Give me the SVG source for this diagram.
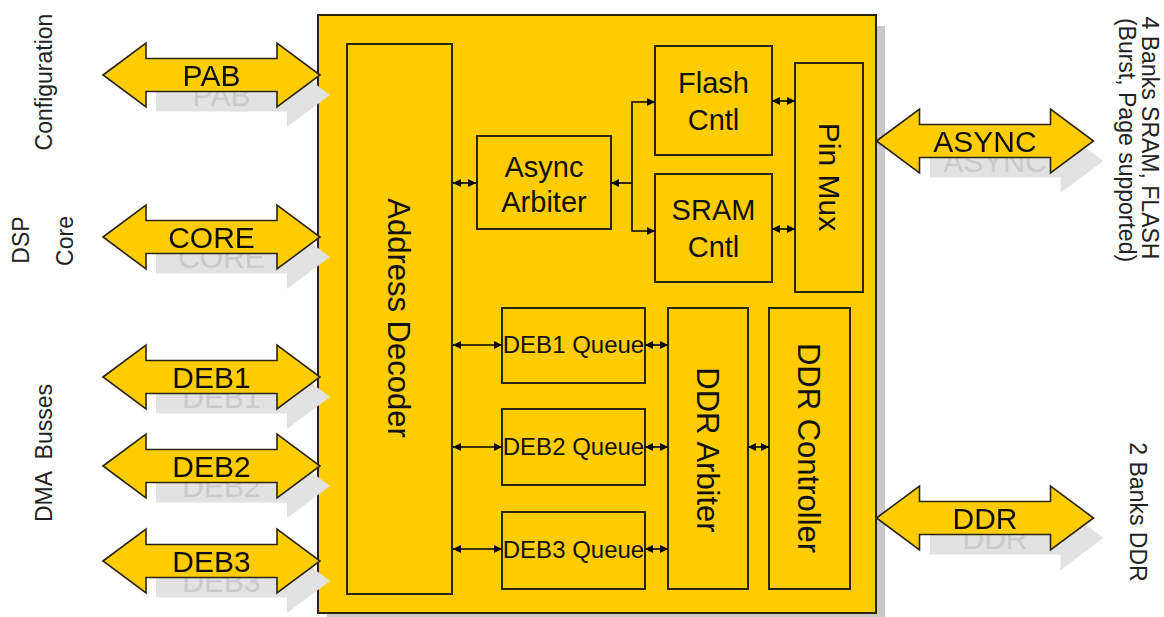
<svg xmlns="http://www.w3.org/2000/svg" width="1164" height="617" viewBox="0 0 1164 617">
<style>
text{font-family:"Liberation Sans",Arial,sans-serif;fill:#111;}
.box{fill:#FFCC00;stroke:#2a2510;stroke-width:2;}
.busfill{fill:#FFCC00;}
.busline{fill:none;stroke:#2a2510;stroke-width:1.6;}
.shadow{fill:#c9c9c9;}
.buslbl{font-size:30px;text-anchor:middle;}
.side{font-size:23px;text-anchor:middle;fill:#222;}
.lbl{font-size:29px;text-anchor:middle;}
.vlbl{font-size:31px;text-anchor:middle;}
.q{font-size:24px;text-anchor:middle;}
.conn{fill:none;stroke:#000;stroke-width:1.6;}
</style>
<defs>
<marker id="ah" viewBox="0 0 8 8" refX="8" refY="4" markerWidth="8" markerHeight="8" markerUnits="userSpaceOnUse" orient="auto-start-reverse">
<path d="M0,0 L8,4 L0,8 Z" fill="#000"/>
</marker>
<path id="busShape" d="M-108.5,0 L-65.5,-32 L-65.5,-16.5 L65.5,-16.5 L65.5,-32 L108.5,0 L65.5,32 L65.5,16.5 L-65.5,16.5 L-65.5,32 Z"/>
<filter id="ghost" filterUnits="userSpaceOnUse" primitiveUnits="userSpaceOnUse" x="-120" y="-50" width="260" height="120">
<feColorMatrix in="SourceGraphic" type="matrix" values="0.0532 0.1788 0.018 0 0.6  0.0532 0.1788 0.018 0 0.6  0.0532 0.1788 0.018 0 0.6  0 0 0 1 0" result="g"/>
<feOffset in="g" dx="10" dy="20" x="-55" y="-50" width="200" height="120" result="sh"/>
<feMerge><feMergeNode in="sh"/><feMergeNode in="SourceGraphic"/></feMerge>
</filter>
</defs>
<rect width="1164" height="617" fill="#fff"/>

<!-- side labels -->
<g id="side-labels">
<text class="side" transform="translate(44,82) rotate(-90)" dy="0.35em">Configuration</text>
<text class="side" transform="translate(21,240) rotate(-90)" dy="0.35em">DSP</text>
<text class="side" transform="translate(65,241) rotate(-90)" dy="0.35em">Core</text>
<text class="side" transform="translate(44,453) rotate(-90)" dy="0.35em" xml:space="preserve">DMA  Busses</text>
<text class="side" transform="translate(1150,138) rotate(90)" dy="0.35em">4 Banks SRAM, FLASH</text>
<text class="side" transform="translate(1127,140) rotate(90)" dy="0.35em">(Burst, Page supported)</text>
<text class="side" transform="translate(1138,512) rotate(90)" dy="0.35em">2 Banks DDR</text>
</g>

<!-- main box -->
<g id="emif">
<rect x="327" y="26" width="558" height="598" fill="#c9c9c9"/>
<rect class="box" x="318" y="15" width="558" height="598"/>
</g>

<!-- bus arrows -->
<g id="bus-pab" transform="translate(211.5,75)">
<g filter="url(#ghost)"><use href="#busShape" class="busfill"/><text class="buslbl" y="11">PAB</text></g>
<use href="#busShape" class="busline"/>
</g>
<g id="bus-core" transform="translate(211.5,237)">
<g filter="url(#ghost)"><use href="#busShape" class="busfill"/><text class="buslbl" y="11">CORE</text></g>
<use href="#busShape" class="busline"/>
</g>
<g id="bus-deb1" transform="translate(211.5,377)">
<g filter="url(#ghost)"><use href="#busShape" class="busfill"/><text class="buslbl" y="11">DEB1</text></g>
<use href="#busShape" class="busline"/>
</g>
<g id="bus-deb2" transform="translate(211.5,466)">
<g filter="url(#ghost)"><use href="#busShape" class="busfill"/><text class="buslbl" y="11">DEB2</text></g>
<use href="#busShape" class="busline"/>
</g>
<g id="bus-deb3" transform="translate(211.5,561)">
<g filter="url(#ghost)"><use href="#busShape" class="busfill"/><text class="buslbl" y="11">DEB3</text></g>
<use href="#busShape" class="busline"/>
</g>
<g id="bus-async" transform="translate(985,141)">
<g filter="url(#ghost)"><use href="#busShape" class="busfill"/><text class="buslbl" y="11">ASYNC</text></g>
<use href="#busShape" class="busline"/>
</g>
<g id="bus-ddr" transform="translate(985,518)">
<g filter="url(#ghost)"><use href="#busShape" class="busfill"/><text class="buslbl" y="11">DDR</text></g>
<use href="#busShape" class="busline"/>
</g>

<!-- inner nodes -->
<g id="address-decoder">
<rect class="box" x="347" y="44" width="105" height="550"/>
<text class="vlbl" transform="translate(399,318) rotate(90)" dy="0.35em">Address Decoder</text>
</g>
<g id="async-arbiter">
<rect class="box" x="477" y="136" width="134" height="93"/>
<text class="lbl" x="544" y="177">Async</text>
<text class="lbl" x="544" y="212">Arbiter</text>
</g>
<g id="flash-cntl">
<rect class="box" x="655" y="46" width="117" height="109"/>
<text class="lbl" x="713.5" y="93">Flash</text>
<text class="lbl" x="713.5" y="130">Cntl</text>
</g>
<g id="sram-cntl">
<rect class="box" x="655" y="174" width="117" height="108"/>
<text class="lbl" x="713.5" y="220">SRAM</text>
<text class="lbl" x="713.5" y="257">Cntl</text>
</g>
<g id="pin-mux">
<rect class="box" x="795" y="63" width="68" height="229"/>
<text class="lbl" style="font-size:30px" transform="translate(829,177) rotate(90)" dy="0.35em">Pin Mux</text>
</g>
<g id="deb1-queue">
<rect class="box" x="502" y="308" width="143" height="75"/>
<text class="q" x="573.5" y="353">DEB1 Queue</text>
</g>
<g id="deb2-queue">
<rect class="box" x="502" y="409" width="143" height="76"/>
<text class="q" x="573.5" y="455">DEB2 Queue</text>
</g>
<g id="deb3-queue">
<rect class="box" x="502" y="512" width="143" height="77"/>
<text class="q" x="573.5" y="558">DEB3 Queue</text>
</g>
<g id="ddr-arbiter">
<rect class="box" x="668" y="308" width="80" height="281"/>
<text class="vlbl" transform="translate(708,450) rotate(90)" dy="0.35em">DDR Arbiter</text>
</g>
<g id="ddr-controller">
<rect class="box" x="769" y="308" width="81" height="281"/>
<text class="vlbl" transform="translate(809,448) rotate(90)" dy="0.35em">DDR Controller</text>
</g>

<!-- connectors -->
<g id="connectors">
<path class="conn" d="M453,183 H476" marker-start="url(#ah)" marker-end="url(#ah)"/>
<path class="conn" d="M632,183 H611" marker-end="url(#ah)"/>
<path class="conn" d="M655,102 H632 V231 H655" marker-start="url(#ah)" marker-end="url(#ah)"/>
<path class="conn" d="M772,101 H795" marker-start="url(#ah)" marker-end="url(#ah)"/>
<path class="conn" d="M772,229 H795" marker-start="url(#ah)" marker-end="url(#ah)"/>
<path class="conn" d="M453,345 H502" marker-start="url(#ah)" marker-end="url(#ah)"/>
<path class="conn" d="M453,447 H502" marker-start="url(#ah)" marker-end="url(#ah)"/>
<path class="conn" d="M453,549 H502" marker-start="url(#ah)" marker-end="url(#ah)"/>
<path class="conn" d="M645,345 H668" marker-start="url(#ah)" marker-end="url(#ah)"/>
<path class="conn" d="M645,447 H668" marker-start="url(#ah)" marker-end="url(#ah)"/>
<path class="conn" d="M645,549 H668" marker-start="url(#ah)" marker-end="url(#ah)"/>
<path class="conn" d="M748,447 H769" marker-start="url(#ah)" marker-end="url(#ah)"/>
</g>
</svg>
